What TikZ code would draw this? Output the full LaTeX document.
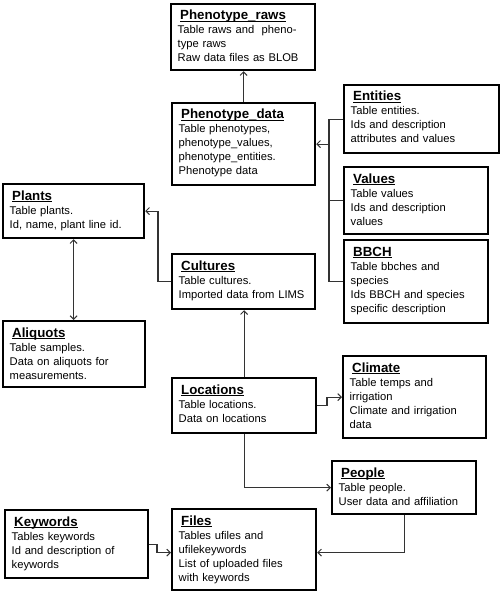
\documentclass[tikz,border=0pt]{standalone}
\usepackage{fontspec}
\setmainfont{Liberation Sans}
\usetikzlibrary{arrows.meta,calc}
\newcommand\ulbar[1]{\setbox0\hbox{#1}\rlap{\rule[-2.2bp]{\wd0}{1.3bp}}\box0}
\tikzset{
  dbbox/.style={draw=black, line width=2.2bp, inner sep=0pt, anchor=north west},
  ttl/.style={anchor=base west, inner sep=0pt, font=\fontsize{13.3bp}{15bp}\selectfont\bfseries},
  bdy/.style={anchor=base west, inner sep=0pt, text width=160bp, align=left, font=\fontsize{11.2bp}{14bp}\selectfont},
  conn/.style={draw=black!80, line width=1.1bp},
  arr/.style={conn, -{Straight Barb[length=3.5bp,width=7bp,line width=1bp]}},
  darr/.style={conn, {Straight Barb[length=3.5bp,width=7bp,line width=1bp]}-{Straight Barb[length=3.5bp,width=7bp,line width=1bp]}}
}
% name, x, y, width, height, title, body
\newcommand\dbtable[7]{%
  \node[dbbox, minimum width=#4bp, minimum height=#5bp] (#1) at (#2,#3) {};
  \node[ttl] (#1-t) at ($(#1.north west)+(10,17)$) {\ulbar{#6}};
  \node[bdy] (#1-b) at ($(#1.north west)+(7.5,31)$) {#7};
}
\begin{document}
\begin{tikzpicture}[x=1bp,y=-1bp]
\useasboundingbox (0,0) rectangle (500,592);
\dbtable{raws}{170}{3}{144}{66}{Phenotype\_raws}{Table raws and\ \ pheno-\\type raws\\Raw data files as BLOB}
\dbtable{data}{171}{102}{143}{82}{Phenotype\_data}{Table phenotypes,\\phenotype\_values,\\phenotype\_entities.\\Phenotype data}
\dbtable{ent}{343}{84}{155}{68}{Entities}{Table entities.\\Ids and description\\attributes and values}
\dbtable{val}{343}{166}{144}{67}{Values}{Table values\\Ids and description\\values}
\dbtable{bbch}{343}{239}{144}{83}{BBCH}{Table bbches and\\species\\Ids BBCH and species\\specific description}
\dbtable{plants}{2}{183}{141}{54}{Plants}{Table plants.\\Id, name, plant line id.}
\dbtable{aliq}{2}{320}{142}{66}{Aliquots}{Table samples.\\Data on aliquots for\\measurements.}
\dbtable{cult}{171}{253}{143}{55}{Cultures}{Table cultures.\\Imported data from LIMS}
\dbtable{loc}{171}{377}{144}{55}{Locations}{Table locations.\\Data on locations}
\dbtable{clim}{342}{355}{143}{82}{Climate}{Table temps and\\irrigation\\Climate and irrigation\\data}
\dbtable{people}{331}{460}{144}{53}{People}{Table people.\\User data and affiliation}
\dbtable{kw}{4}{509}{143}{68}{Keywords}{Tables keywords\\Id and description of\\keywords}
\dbtable{files}{171}{508}{144}{81}{Files}{Tables ufiles and\\ufilekeywords\\List of uploaded files\\with keywords}

\coordinate (busx) at (329,0);
\coordinate (cpx) at (158,0);
\coordinate (clx) at (327,0);
\coordinate (kwx) at (157,0);
\coordinate (fin) at ($(files.west)+(0,3)$);
\coordinate (fine) at ($(files.east)+(0,3)$);

\draw[arr] (data.north) -- (data.north |- raws.south);
\draw[conn] (ent.west) -- (ent.west -| busx) -- (bbch.west -| busx) -- (bbch.west);
\draw[conn] (val.west) -- (val.west -| busx);
\draw[arr] (data.east -| busx) -- (data.east);
\draw[arr] (cult.west) -- (cult.west -| cpx) -- (plants.east -| cpx) -- (plants.east);
\draw[darr] (plants.south) -- (aliq.north -| plants.south);
\draw[arr] (loc.north) -- (loc.north |- cult.south);
\draw[arr] (loc.east) -- (loc.east -| clx) -- (clim.west -| clx) -- (clim.west);
\draw[arr] (loc.south) |- (people.west);
\draw[arr] (kw.east) -- (kw.east -| kwx) -- (fin -| kwx) -- (fin);
\draw[arr] (people.south) |- (fine);
\end{tikzpicture}
\end{document}
